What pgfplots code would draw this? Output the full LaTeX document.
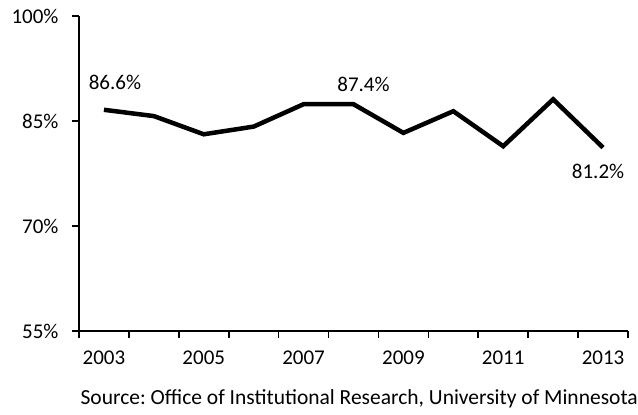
\documentclass[border=0pt]{standalone}
\usepackage{pgfplots}
\pgfplotsset{compat=1.18}
\usepackage{fontspec}
\setmainfont{Carlito}
\frenchspacing
\begin{document}
\frenchspacing
\begin{tikzpicture}[x=1pt,y=1pt]
\useasboundingbox (0,0) rectangle (638,415);
\begin{axis}[
  at={(79pt,84pt)}, anchor=south west,
  scale only axis, width=549pt, height=315pt,
  xmin=2002.5, xmax=2013.5, ymin=55, ymax=100,
  axis lines=left, axis line style={-, line width=1.6pt, black},
  xtick={2003,2005,2007,2009,2011,2013},
  xticklabels={2003,2005,2007,2009,2011,2013},
  minor xtick={2002.5,2003.5,...,2013.5},
  ytick={55,70,85,100},
  yticklabels={55\%,70\%,85\%,100\%},
  tick align=outside,
  major tick length=7pt, minor tick length=7pt,
  every tick/.style={line width=1.6pt, black},
  major x tick style={draw=none},
  tick label style={font=\fontsize{21}{24}\selectfont},
  xticklabel style={yshift=-9pt},
  yticklabel style={xshift=-10pt},
  /pgf/number format/assume math mode=true,
  clip=false,
]
\addplot[black, line width=4.5pt, line join=miter] coordinates {
 (2003,86.6) (2004,85.7) (2005,83.1) (2006,84.2) (2007,87.4) (2008,87.4)
 (2009,83.3) (2010,86.4) (2011,81.4) (2012,88.1) (2013,81.2)};
\node[font=\fontsize{21}{24}\selectfont] at (axis cs:2003,86.6) [xshift=11pt,yshift=27pt] {86.6\%};
\node[font=\fontsize{21}{24}\selectfont] at (axis cs:2008,87.4) [xshift=10pt,yshift=20pt] {87.4\%};
\node[font=\fontsize{21}{24}\selectfont] at (axis cs:2013,81.2) [xshift=-5pt,yshift=-24pt] {81.2\%};
\end{axis}
\node[anchor=east, font=\fontsize{21.5}{24}\selectfont, inner sep=0pt] at (638,16) {Source:\ Office of Institutional Research, University of Minnesota};
\end{tikzpicture}
\end{document}
